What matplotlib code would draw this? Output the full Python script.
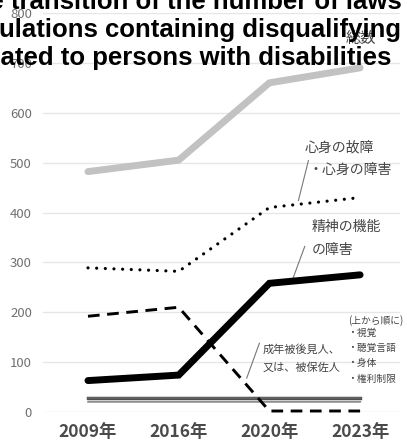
import matplotlib
matplotlib.use('Agg')
import matplotlib.pyplot as plt

plt.rcParams['font.family'] = ['Noto Sans CJK JP', 'DejaVu Sans']

# Number of laws and regulations with disqualifying clauses, by survey year
years = ['2009年', '2016年', '2020年', '2023年']
total = [482, 505, 660, 690]
mind_body = [289, 282, 410, 430]
mental_function = [63, 74, 258, 275]
adult_guardianship = [192, 210, 2, 2]
sight = [29, 29, 29, 29]
hearing_speech = [28, 28, 28, 28]
physical = [22, 22, 22, 22]
rights_restriction = [21, 21, 21, 21]

x = list(range(len(years)))

fig = plt.figure(figsize=(4.07, 4.43), dpi=100)
ax = fig.add_axes([43 / 407, 31 / 443, 357 / 407, 399 / 443])

ax.plot(x, total, color='#c2c2c2', lw=5, solid_capstyle='round', zorder=3)
ax.plot(x, mind_body, color='black', lw=2.3, linestyle=(0, (0.01, 2.7)),
        dash_capstyle='round', zorder=3)
ax.plot(x, mental_function, color='black', lw=5, solid_capstyle='round',
        solid_joinstyle='miter', zorder=4)
ax.plot(x, adult_guardianship, color='black', lw=2.1, linestyle=(0, (4, 2.6)),
        zorder=3, clip_on=False)
ax.plot(x, rights_restriction, color='#a8a8a8', lw=1.3, zorder=2)
ax.plot(x, physical, color='#8c8c8c', lw=1.0, zorder=2)
ax.plot(x, hearing_speech, color='#4e4e4e', lw=2.4, zorder=2)
ax.plot(x, sight, color='#606060', lw=1.6, zorder=2)

ax.set_xlim(-0.496, 3.44)
ax.set_ylim(0, 800)
ax.set_yticks(range(0, 801, 100))
ax.set_xticks(x)
ax.set_xticklabels(years, fontsize=12.5, fontweight='bold', color='#4a4a4a')
ax.tick_params(axis='x', length=0, pad=8)
ax.tick_params(axis='y', length=0, pad=8, labelsize=9.5, labelcolor='#707070')
ax.grid(axis='y', color='#e6e6e6', lw=1)
ax.set_axisbelow(True)
for s in ax.spines.values():
    s.set_visible(False)

# Series labels and leader lines
txt = dict(color='#444444', va='center')
ax.text(3.01, 748, '総数', fontsize=11, ha='center', **txt)
ax.text(2.39, 530, '心身の故障', fontsize=10, ha='left', **txt)
ax.text(2.43, 486, '・心身の障害', fontsize=10, ha='left', **txt)
ax.plot([2.43, 2.32], [504, 424], color='#777777', lw=0.8)
ax.text(2.47, 370, '精神の機能', fontsize=10, ha='left', **txt)
ax.text(2.47, 324, 'の障害', fontsize=10, ha='left', **txt)
ax.plot([2.39, 2.26], [332, 268], color='#777777', lw=0.8)
ax.text(1.92, 126, '成年被後見人、', fontsize=8, ha='left', **txt)
ax.text(1.92, 90, '又は、被保佐人', fontsize=8, ha='left', **txt)
ax.plot([1.89, 1.75], [138, 68], color='#777777', lw=0.8)
ax.text(2.87, 184, '(上から順に)', fontsize=7, ha='left', **txt)
for yy, lab in zip([158, 128, 98, 66], ['・視覚', '・聴覚言語', '・身体', '・権利制限']):
    ax.text(2.86, yy, lab, fontsize=7, ha='left', **txt)

fig.text(180 / 407, 1.022,
         'The transition of the number of laws\n'
         'regulations containing disqualifying\n'
         'related to persons with disabilities',
         ha='center', va='top', ma='center', fontsize=18.5, fontweight='bold',
         family=['Liberation Sans', 'DejaVu Sans'], linespacing=1.2, zorder=10)

fig.savefig('out.png', dpi=100)
